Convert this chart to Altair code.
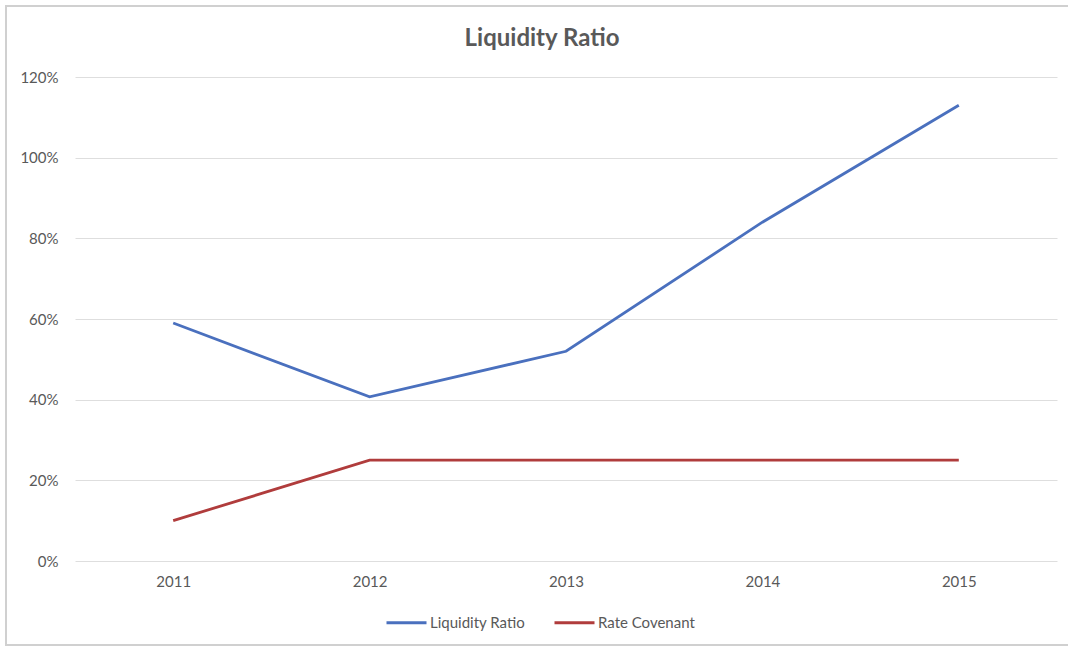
import altair as alt
import pandas as pd

years = ["2011", "2012", "2013", "2014", "2015"]
liquidity_ratio = [0.59, 0.407, 0.52, 0.84, 1.13]
rate_covenant = [0.10, 0.25, 0.25, 0.25, 0.25]
series_names = ["Liquidity Ratio", "Rate Covenant"]
series_colors = ["#4A70BE", "#B03C3C"]
y_ticks = [0, 0.2, 0.4, 0.6, 0.8, 1.0, 1.2]
chart_title = "Liquidity Ratio"

rows = []
for y, a, b in zip(years, liquidity_ratio, rate_covenant):
    rows.append({"Year": y, "Series": series_names[0], "Value": a})
    rows.append({"Year": y, "Series": series_names[1], "Value": b})
df = pd.DataFrame(rows)

FONT = "Lato"
GRAY = "#595959"

lines = alt.Chart(df).mark_line(strokeWidth=2.8, clip=False).encode(
    x=alt.X("Year:N", sort=years, title=None,
            scale=alt.Scale(type="point", padding=0.5),
            axis=alt.Axis(labelAngle=0, ticks=False, domain=False, grid=False,
                          labelPadding=13, labelFontSize=15, labelColor=GRAY,
                          labelFont=FONT)),
    y=alt.Y("Value:Q", title=None,
            scale=alt.Scale(domain=[0, 1.2], nice=False),
            axis=alt.Axis(values=y_ticks, format=".0%", ticks=False, domain=False,
                          gridColor="#dedede", gridWidth=1, labelPadding=17,
                          labelFontSize=15, labelColor=GRAY, labelFont=FONT)),
    color=alt.Color("Series:N", sort=series_names,
                    scale=alt.Scale(domain=series_names, range=series_colors),
                    legend=alt.Legend(title=None, orient="none", direction="horizontal",
                                      legendX=310, legendY=52 + 484 - 12,
                                      symbolType="stroke", symbolSize=1600,
                                      symbolStrokeWidth=3, labelFontSize=15,
                                      labelColor=GRAY, labelFont=FONT,
                                      columnPadding=22, labelOffset=2)),
)

frame = alt.Chart(pd.DataFrame({"k": [1]})).mark_rect(
    fill=None, stroke="#d0d0d0", strokeWidth=2, clip=False
).encode(x=alt.value(-69), x2=alt.value(1000), y=alt.value(-71), y2=alt.value(568))

title = alt.Chart(pd.DataFrame({"t": [chart_title]})).mark_text(
    font=FONT, fontSize=24, fontWeight="bold", color=GRAY,
    align="center", baseline="middle", clip=False
).encode(text="t:N", x=alt.value(467), y=alt.value(-38))

chart = alt.layer(frame, lines, title).properties(
    width=982,
    height=484,
    padding={"left": 75, "top": 77, "right": 11, "bottom": 87},
    autosize=alt.AutoSizeParams(type="none"),
).configure_view(stroke=None)

chart.save("out.html", embed_options={"renderer": "svg", "actions": False})
